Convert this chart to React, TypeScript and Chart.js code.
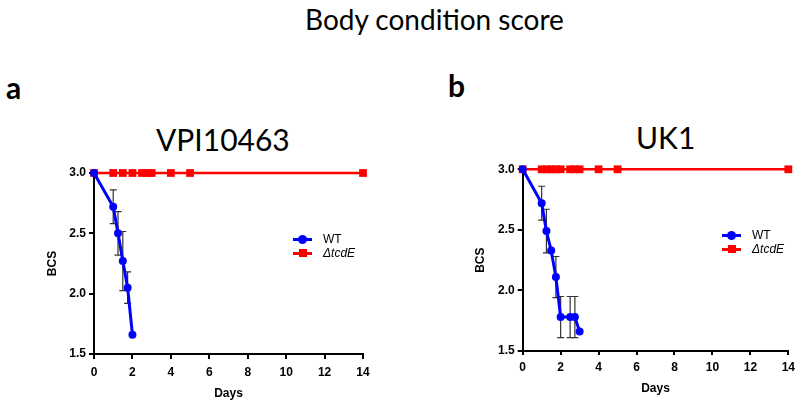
import React, { useEffect, useRef } from 'react';
import { Chart, registerables } from 'chart.js';

Chart.register(...registerables);

const BLUE = '#0000ff';
const RED = '#ff0000';
const AXIS_FONT = "'Liberation Sans', Arial, sans-serif";
const TITLE_FONT = "Lato, 'Open Sans', sans-serif";

// shared ticks
const xTicks = [0, 2, 4, 6, 8, 10, 12, 14];
const yTicks = [1.5, 2.0, 2.5, 3.0];

// Panel a: VPI10463
const vpiWtDays = [0, 1, 1.25, 1.5, 1.75, 2];
const vpiWtBcs = [3.0, 2.72, 2.5, 2.27, 2.05, 1.66];
const vpiWtErr = [0, 0.14, 0.18, 0.245, 0.13, 0];
const vpiKoDays = [0, 1, 1.5, 2, 2.5, 2.75, 3, 4, 5, 14];
const vpiKoBcs = [3, 3, 3, 3, 3, 3, 3, 3, 3, 3];

// Panel b: UK1
const uk1WtDays = [0, 1, 1.25, 1.5, 1.75, 2, 2.5, 2.75, 3];
const uk1WtBcs = [3.0, 2.72, 2.49, 2.33, 2.11, 1.78, 1.78, 1.78, 1.66];
const uk1WtErr = [0, 0.14, 0.18, 0, 0.17, 0.17, 0.17, 0.17, 0];
const uk1KoDays = [0, 1, 1.25, 1.5, 1.75, 2, 2.5, 2.75, 3, 4, 5, 14];
const uk1KoBcs = [3, 3, 3, 3, 3, 3, 3, 3, 3, 3, 3, 3];

const seriesLabels = ['WT', 'ΔtcdE'];

const errorBarPlugin = {
  id: 'errorBars',
  beforeDatasetsDraw(chart: any) {
    const ctx = chart.ctx;
    const ys = chart.scales.y;
    chart.data.datasets.forEach((ds: any, i: number) => {
      const errs = ds.errors;
      if (!errs) return;
      const meta = chart.getDatasetMeta(i);
      ctx.save();
      ctx.strokeStyle = '#333333';
      ctx.lineWidth = 1.2;
      meta.data.forEach((pt: any, j: number) => {
        const e = errs[j];
        if (!e) return;
        const v = ds.data[j].y;
        const x = pt.x;
        const top = ys.getPixelForValue(v + e);
        const bot = ys.getPixelForValue(v - e);
        ctx.beginPath();
        ctx.moveTo(x, top);
        ctx.lineTo(x, bot);
        ctx.moveTo(x - 3.5, top);
        ctx.lineTo(x + 3.5, top);
        ctx.moveTo(x - 3.5, bot);
        ctx.lineTo(x + 3.5, bot);
        ctx.stroke();
      });
      ctx.restore();
    });
  },
};

type PanelProps = {
  wtDays: number[];
  wtBcs: number[];
  wtErr: number[];
  koDays: number[];
  koBcs: number[];
  padding: { left: number; right: number; top: number; bottom: number };
  xAxisH: number;
  xTickLen: number;
  xTickPad: number;
  xTitlePad: number;
};

function Panel(p: PanelProps) {
  const ref = useRef<HTMLCanvasElement>(null);
  useEffect(() => {
    const axisCommon = {
      grid: {
        display: true,
        drawOnChartArea: false,
        drawTicks: true,
        color: '#000',
        lineWidth: 2,
      },
      border: { display: true, color: '#000', width: 2 },
    };
    const chart = new Chart(ref.current as HTMLCanvasElement, {
      type: 'line',
      data: {
        datasets: [
          {
            label: seriesLabels[0],
            data: p.wtDays.map((d, i) => ({ x: d, y: p.wtBcs[i] })),
            errors: p.wtErr,
            borderColor: BLUE,
            backgroundColor: BLUE,
            borderWidth: 3,
            pointStyle: 'circle',
            pointRadius: 4,
            pointBorderWidth: 0,
            clip: false,
          } as any,
          {
            label: seriesLabels[1],
            data: p.koDays.map((d, i) => ({ x: d, y: p.koBcs[i] })),
            borderColor: RED,
            backgroundColor: RED,
            borderWidth: 2.5,
            pointStyle: 'rect',
            pointRadius: 5.5,
            pointBorderWidth: 0,
            clip: false,
          } as any,
        ],
      },
      options: {
        animation: false,
        responsive: false,
        maintainAspectRatio: false,
        layout: { padding: p.padding },
        plugins: { legend: { display: false }, tooltip: { enabled: false } },
        scales: {
          x: {
            type: 'linear',
            min: 0,
            max: 14,
            ...axisCommon,
            grid: { ...axisCommon.grid, tickLength: p.xTickLen },
            afterBuildTicks: (s: any) => {
              s.ticks = xTicks.map((v) => ({ value: v }));
            },
            afterFit: (s: any) => {
              s.height = p.xAxisH;
            },
            ticks: {
              color: '#000',
              padding: p.xTickPad,
              font: { family: AXIS_FONT, size: 12, weight: 'bold' },
              callback: (v: any) => String(v),
            },
            title: {
              display: true,
              text: 'Days',
              color: '#000',
              padding: { top: 0, bottom: p.xTitlePad },
              font: { family: AXIS_FONT, size: 12, weight: 'bold' },
            },
          },
          y: {
            type: 'linear',
            min: 1.5,
            max: 3.0,
            ...axisCommon,
            grid: { ...axisCommon.grid, tickLength: 5 },
            afterBuildTicks: (s: any) => {
              s.ticks = yTicks.map((v) => ({ value: v }));
            },
            afterFit: (s: any) => {
              s.width = 50;
            },
            ticks: {
              color: '#000',
              padding: 3,
              font: { family: AXIS_FONT, size: 12, weight: 'bold' },
              callback: (v: any) => Number(v).toFixed(1),
            },
            title: {
              display: true,
              text: 'BCS',
              color: '#000',
              padding: { top: 1, bottom: 0 },
              font: { family: AXIS_FONT, size: 12, weight: 'bold' },
            },
          },
        },
      } as any,
      plugins: [errorBarPlugin],
    });
    return () => chart.destroy();
  }, []);
  return <canvas ref={ref} width={400} height={252} style={{ display: 'block', width: 400, height: 252 }} />;
}

function LegendMarker({ kind }: { kind: 'circle' | 'rect' }) {
  const color = kind === 'circle' ? BLUE : RED;
  return (
    <span style={{ position: 'relative', display: 'inline-block', width: 19, height: 10, marginRight: 11, verticalAlign: 'middle' }}>
      <span style={{ position: 'absolute', left: 0, right: 0, top: 4, height: 3, background: color }} />
      {kind === 'circle' ? (
        <span style={{ position: 'absolute', left: 5, top: 1, width: 9, height: 9, borderRadius: '50%', background: color }} />
      ) : (
        <span style={{ position: 'absolute', left: 5.5, top: 1.5, width: 8, height: 8, background: color }} />
      )}
    </span>
  );
}

function Legend({ left, top }: { left: number; top: number }) {
  const rowStyle: React.CSSProperties = { height: 14, lineHeight: '14px', whiteSpace: 'nowrap' };
  return (
    <div style={{ position: 'absolute', left, top, fontFamily: AXIS_FONT, fontSize: 12, color: '#000' }}>
      <div style={rowStyle}>
        <LegendMarker kind="circle" />
        <span style={{ verticalAlign: 'middle' }}>{seriesLabels[0]}</span>
      </div>
      <div style={rowStyle}>
        <LegendMarker kind="rect" />
        <span style={{ verticalAlign: 'middle', fontStyle: 'italic' }}>{seriesLabels[1]}</span>
      </div>
    </div>
  );
}

export default function App() {
  const textBase: React.CSSProperties = { position: 'absolute', whiteSpace: 'nowrap', color: '#000', lineHeight: 1 };
  return (
    <div style={{ position: 'absolute', left: 0, top: 0, width: 800, height: 402, background: '#fff', overflow: 'hidden' }}>
      <div style={{ ...textBase, left: 305, top: 5, fontFamily: TITLE_FONT, fontSize: 28 }}>Body condition score</div>
      <div style={{ ...textBase, left: 6, top: 72, fontFamily: TITLE_FONT, fontSize: 30, fontWeight: 'bold' }}>a</div>
      <div style={{ ...textBase, left: 448, top: 70, fontFamily: TITLE_FONT, fontSize: 30, fontWeight: 'bold' }}>b</div>
      <div style={{ ...textBase, left: 156, top: 124, fontFamily: TITLE_FONT, fontSize: 30 }}>VPI10463</div>
      <div style={{ ...textBase, left: 636, top: 122, fontFamily: TITLE_FONT, fontSize: 30 }}>UK1</div>
      <div style={{ position: 'absolute', left: 0, top: 150 }}>
        <Panel
          wtDays={vpiWtDays}
          wtBcs={vpiWtBcs}
          wtErr={vpiWtErr}
          koDays={vpiKoDays}
          koBcs={vpiKoBcs}
          padding={{ left: 44, right: 37, top: 23, bottom: 0 }}
          xAxisH={48}
          xTickLen={5}
          xTickPad={6}
          xTitlePad={1}
        />
      </div>
      <div style={{ position: 'absolute', left: 400, top: 150 }}>
        <Panel
          wtDays={uk1WtDays}
          wtBcs={uk1WtBcs}
          wtErr={uk1WtErr}
          koDays={uk1KoDays}
          koBcs={uk1KoBcs}
          padding={{ left: 72.7, right: 9, top: 19.3, bottom: 0 }}
          xAxisH={51}
          xTickLen={4}
          xTickPad={5}
          xTitlePad={6}
        />
      </div>
      <Legend left={293} top={231} />
      <Legend left={722} top={227} />
    </div>
  );
}
